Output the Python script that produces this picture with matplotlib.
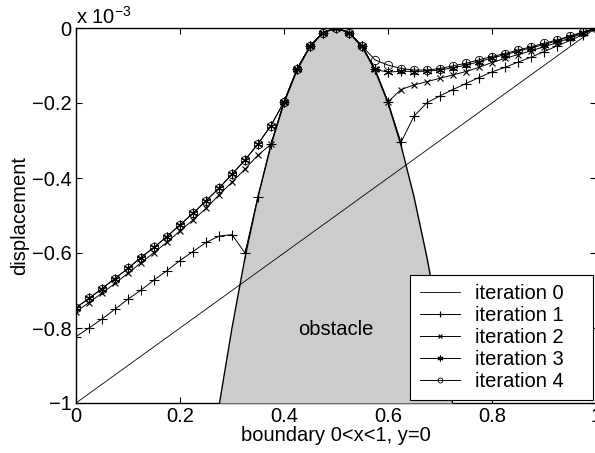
#!/usr/bin/env python3
"""Obstacle problem: boundary displacement over iterations."""
import numpy as np
import matplotlib
matplotlib.use('Agg')
import matplotlib.pyplot as plt
from matplotlib.ticker import FuncFormatter

plt.rcParams['font.family'] = ['Liberation Sans', 'DejaVu Sans']
plt.rcParams['mathtext.fontset'] = 'custom'
plt.rcParams['mathtext.rm'] = 'Liberation Sans'
plt.rcParams['mathtext.it'] = 'Liberation Sans:italic'

# --- data (displacement in units of 1e-3) ---
x_nodes = np.linspace(0, 1, 41)

iter0_x = [0.0, 1.0]
iter0_y = [-1.0, 0.0]

iter1 = [-0.823, -0.800, -0.776, -0.750, -0.723, -0.699, -0.672, -0.647, -0.620, -0.596,
         -0.572, -0.555, -0.551, -0.600, -0.450, -0.310, -0.197, -0.110, -0.048, -0.012,
         0.000, -0.012, -0.048, -0.110, -0.197, -0.305, -0.235, -0.199, -0.181, -0.164,
         -0.148, -0.132, -0.117, -0.105, -0.091, -0.078, -0.063, -0.048, -0.033, -0.018,
         0.000]

iter2 = [-0.757, -0.732, -0.707, -0.681, -0.654, -0.626, -0.599, -0.571, -0.541, -0.512,
         -0.481, -0.445, -0.411, -0.376, -0.339, -0.310, -0.197, -0.110, -0.048, -0.012,
         0.000, -0.012, -0.048, -0.110, -0.197, -0.164, -0.152, -0.143, -0.134, -0.125,
         -0.116, -0.105, -0.092, -0.081, -0.071, -0.061, -0.050, -0.039, -0.027, -0.014,
         0.000]

iter3 = [-0.746, -0.721, -0.695, -0.668, -0.641, -0.612, -0.585, -0.556, -0.525, -0.494,
         -0.461, -0.427, -0.390, -0.352, -0.309, -0.260, -0.197, -0.110, -0.048, -0.012,
         0.000, -0.012, -0.048, -0.110, -0.118, -0.115, -0.116, -0.115, -0.112, -0.106,
         -0.099, -0.090, -0.080, -0.071, -0.062, -0.053, -0.044, -0.034, -0.023, -0.012,
         0.000]

iter4 = [-0.746, -0.721, -0.695, -0.668, -0.641, -0.612, -0.585, -0.556, -0.525, -0.494,
         -0.461, -0.427, -0.390, -0.352, -0.309, -0.260, -0.197, -0.110, -0.048, -0.012,
         0.000, -0.012, -0.048, -0.085, -0.099, -0.108, -0.112, -0.112, -0.108, -0.101,
         -0.094, -0.085, -0.076, -0.068, -0.059, -0.050, -0.041, -0.032, -0.021, -0.011,
         0.000]

obst_x = [0.276, 0.3, 0.325, 0.35, 0.375, 0.4, 0.425, 0.45, 0.475, 0.5,
          0.525, 0.55, 0.575, 0.6, 0.625, 0.65, 0.675, 0.7, 0.724]
obst_y = [-1.0, -0.80, -0.6125, -0.45, -0.3125, -0.20, -0.1125, -0.05, -0.0125, 0.0,
          -0.0125, -0.05, -0.1125, -0.20, -0.3125, -0.45, -0.6125, -0.80, -1.0]

labels = ['iteration 0', 'iteration 1', 'iteration 2', 'iteration 3', 'iteration 4']

# --- plot ---
fs = 14.5
fig = plt.figure(figsize=(5.95, 4.53), dpi=100)
ax = fig.add_axes([76 / 595, 50 / 453, 520 / 595, 375 / 453])

ax.fill_between(obst_x, obst_y, -1.0, color='#cccccc', lw=0, zorder=3)
ax.plot(obst_x, obst_y, color='k', lw=1.0, zorder=3.5)

asterisk = (6, 2, 0)
pad = '\u2002\u2002'  # MATLAB legends leave extra room on the right
ax.plot(iter0_x, iter0_y, color='k', lw=0.6, zorder=4, label=labels[0] + pad)
ax.plot(x_nodes, iter1, color='k', lw=0.7, marker='+', ms=7, mew=0.8, zorder=4,
        label=labels[1] + pad)
ax.plot(x_nodes, iter2, color='k', lw=0.7, marker='x', ms=5, mew=0.8, zorder=4,
        label=labels[2] + pad)
ax.plot(x_nodes, iter3, color='k', lw=0.7, marker=asterisk, ms=7, mew=0.8, zorder=4,
        label=labels[3] + pad)
ax.plot(x_nodes, iter4, color='k', lw=0.7, marker='o', ms=6, mew=0.6, mfc='none', zorder=4,
        label=labels[4] + pad)

ax.text(0.5, -0.805, 'obstacle', ha='center', va='center', fontsize=fs, zorder=5)

ax.set_xlim(0, 1)
ax.set_ylim(-1, 0)
ax.set_xticks([0, 0.2, 0.4, 0.6, 0.8, 1.0])
ax.set_yticks([-1, -0.8, -0.6, -0.4, -0.2, 0])
fmt = FuncFormatter(lambda v, p: ('%g' % round(v, 3)).replace('-', '\u2212'))
ax.xaxis.set_major_formatter(fmt)
ax.yaxis.set_major_formatter(fmt)
ax.tick_params(direction='in', top=True, right=True, length=4, width=0.8,
               labelsize=fs, pad=3)
for s in ax.spines.values():
    s.set_linewidth(1.0)

ax.text(0.0, 1.0, r'x 10$^{\mathrm{-3}}$', transform=ax.transAxes,
        ha='left', va='bottom', fontsize=fs)

ax.set_xlabel('boundary 0<x<1, y=0', fontsize=fs, labelpad=0)
ax.set_ylabel('displacement', fontsize=fs, labelpad=2)

leg = ax.legend(loc='lower right', fontsize=fs, numpoints=1, fancybox=False,
                framealpha=1, edgecolor='k', borderaxespad=0.15, labelspacing=0.15,
                handlelength=2.0, borderpad=0.45, handletextpad=0.75, markerscale=0.6)
leg.get_frame().set_linewidth(0.8)
leg.set_zorder(6)

fig.savefig('out.png', dpi=100)
